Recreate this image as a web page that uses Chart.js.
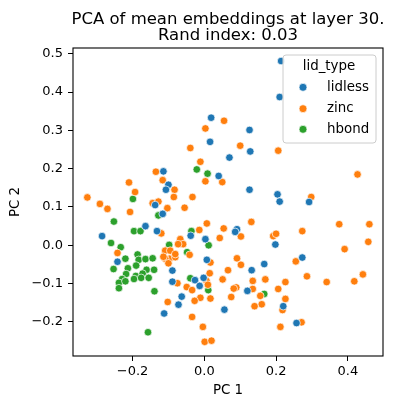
<!DOCTYPE html>
<html>
<head>
<meta charset="utf-8">
<script src="https://cdn.jsdelivr.net/npm/chart.js@4.4.0/dist/chart.umd.min.js"></script>
<style>
html,body{margin:0;padding:0;background:#fff}
</style>
</head>
<body>
<canvas id="myChart" width="396" height="409"></canvas>
<script>
// values
var lidlessX = [0.214, 0.210, 0.019, 0.126, 0.016, 0.128, 0.070, 0.040, 0.126, 0.204, 0.210, 0.292,
  -0.114, -0.100, -0.107, -0.137, -0.116, -0.164, -0.132, -0.285, -0.242, -0.038, 0.091, 0.086,
  0.003, 0.198, 0.007, 0.167, 0.132, -0.089, -0.089, -0.026, -0.002, -0.013, 0.120, -0.063,
  -0.072, -0.112, 0.056, 0.273, 0.220, 0.257];
var lidlessY = [0.481, 0.387, 0.333, 0.301, 0.270, 0.245, 0.229, 0.181, 0.145, 0.133, 0.114, 0.113,
  0.193, 0.158, 0.145, 0.105, 0.082, 0.050, 0.037, 0.024, -0.043, 0.025, 0.042, 0.035,
  0.016, 0.002, -0.038, -0.049, -0.065, -0.066, -0.095, -0.091, -0.085, -0.106, -0.119, -0.134,
  -0.155, -0.178, -0.168, -0.032, -0.159, -0.203];

var zincX = [0.055, 0.003, -0.039, 0.100, 0.206, -0.011, 0.003, 0.050, -0.033, -0.055, 0.427, 0.298,
  -0.135, -0.210, -0.116, -0.083, -0.193, -0.326, -0.085, -0.291, -0.270, -0.144, -0.128, -0.103,
  -0.207, -0.120, -0.242,
  -0.067, -0.059, -0.073, -0.109, -0.095, -0.097, -0.109, -0.081, -0.114, -0.081, -0.100,
  -0.102, -0.075,
  0.007, 0.054, 0.131, -0.014, 0.102, 0.043, 0.192, -0.041, 0.017, 0.091, 0.102, 0.066,
  0.015, 0.051, 0.006, 0.135, 0.170, -0.049, -0.034, 0.010, 0.089, 0.082, 0.135, 0.156,
  -0.011, 0.017, -0.027, 0.075, 0.160, 0.140, -0.034, -0.004, 0.001, 0.020,
  0.376, 0.460, 0.273, 0.457, 0.391, 0.255, 0.286, 0.341, 0.418, 0.442, 0.226, 0.206,
  0.226, 0.218, 0.271, 0.212, 0.200];
var zincY = [0.325, 0.305, 0.254, 0.260, 0.247, 0.218, 0.167, 0.165, 0.126, 0.098, 0.185, 0.126,
  0.192, 0.164, 0.170, 0.145, 0.139, 0.125, 0.126, 0.108, 0.095, 0.110, 0.114, 0.097,
  0.087, 0.031, -0.020,
  0.016, 0.003, 0.003, -0.014, -0.014, -0.035, -0.035, -0.031, -0.030, -0.023, -0.047,
  -0.148, -0.099,
  0.057, 0.044, 0.061, 0.040, 0.023, 0.019, 0.024, -0.025, -0.045, -0.034, -0.051, -0.065,
  -0.073, -0.089, -0.093, -0.093, -0.089, -0.109, -0.117, -0.103, -0.110, -0.113, -0.114, -0.132,
  -0.137, -0.139, -0.145, -0.135, -0.154, -0.159, -0.187, -0.213, -0.252, -0.249,
  0.055, 0.055, 0.037, 0.009, -0.010, -0.042, -0.081, -0.096, -0.094, -0.076, -0.096, -0.114,
  -0.140, -0.169, -0.201, -0.213, 0.030];

var hbondX = [-0.021, 0.009, -0.199, -0.128, -0.252, -0.196, -0.178, -0.260, -0.233, -0.098, -0.036, 0.012,
  -0.048, -0.039, 0.011, 0.167, -0.157,
  -0.186, -0.183, -0.164, -0.144, -0.220, -0.253, -0.213, -0.190, -0.161, -0.140, -0.218, -0.191,
  -0.172, -0.229, -0.196, -0.176, -0.155, -0.238, -0.220, -0.238, -0.139];
var hbondY = [0.198, 0.187, 0.121, 0.078, 0.062, 0.037, 0.037, 0.006, -0.005, 0.001, 0.037, 0.000,
  -0.018, -0.086, -0.117, -0.127, -0.227,
  -0.024, -0.038, -0.036, -0.034, -0.035, -0.062, -0.060, -0.053, -0.064, -0.064, -0.075, -0.080,
  -0.074, -0.088, -0.088, -0.085, -0.085, -0.098, -0.094, -0.112, -0.120];

var xTicks = [-0.2, 0.0, 0.2, 0.4];
var yTicks = [-0.2, -0.1, 0.0, 0.1, 0.2, 0.3, 0.4, 0.5];

var titleLines = ['PCA of mean embeddings at layer 30.', 'Rand index: 0.03'];
var legendTitle = 'lid_type';

function pts(xs, ys) {
  return xs.map((x, i) => ({x: x, y: ys[i]}));
}
function fmt(v) {
  return (v < 0 ? '\u2212' : '') + Math.abs(v).toFixed(1);
}

var FONT = 'DejaVu Sans';

var extras = {
  id: 'extras',
  afterDatasetsDraw(chart) {
    var ctx = chart.ctx, a = chart.chartArea;
    ctx.save();
    ctx.strokeStyle = '#000';
    ctx.lineWidth = 1.1;
    ctx.strokeRect(a.left, a.top, a.right - a.left, a.bottom - a.top);
    ctx.restore();
  },
  afterDraw(chart) {
    var ctx = chart.ctx, a = chart.chartArea;
    ctx.save();
    // title
    ctx.fillStyle = '#000';
    ctx.textAlign = 'center';
    ctx.textBaseline = 'alphabetic';
    ctx.font = '16.5px "' + FONT + '"';
    var cx = (a.left + a.right) / 2;
    ctx.fillText(titleLines[0], cx, 24);
    ctx.fillText(titleLines[1], cx, 39.5);

    // legend
    var w = 93, h = 88;
    var bx = a.right - 7 - w, by = a.top + 7;
    ctx.beginPath();
    ctx.roundRect(bx, by, w, h, 3);
    ctx.fillStyle = 'rgba(255,255,255,0.8)';
    ctx.fill();
    ctx.strokeStyle = '#cccccc';
    ctx.lineWidth = 1;
    ctx.stroke();
    ctx.fillStyle = '#000';
    ctx.font = '13.4px "' + FONT + '"';
    ctx.textBaseline = 'middle';
    ctx.fillText(legendTitle, bx + 46, by + 12);
    ctx.textAlign = 'left';
    var rows = [32.3, 53.7, 74.3];
    chart.data.datasets.forEach(function (ds, i) {
      ctx.beginPath();
      ctx.arc(bx + 20, by + rows[i], 4, 0, Math.PI * 2);
      ctx.fillStyle = ds.backgroundColor;
      ctx.fill();
      ctx.strokeStyle = '#fff';
      ctx.lineWidth = 0.7;
      ctx.stroke();
      ctx.fillStyle = '#000';
      ctx.fillText(ds.label, bx + 44, by + rows[i]);
    });
    ctx.restore();
  }
};

new Chart('myChart', {
  type: 'scatter',
  data: {
    datasets: [{
      label: 'lidless',
      data: pts(lidlessX, lidlessY),
      backgroundColor: '#1f77b4'
    }, {
      label: 'zinc',
      data: pts(zincX, zincY),
      backgroundColor: '#ff7f0e'
    }, {
      label: 'hbond',
      data: pts(hbondX, hbondY),
      backgroundColor: '#2ca02c'
    }]
  },
  options: {
    responsive: false,
    animation: false,
    devicePixelRatio: 1,
    layout: {padding: {top: 48, right: 13, left: 0, bottom: 0}},
    elements: {point: {radius: 3.8, borderColor: '#ffffff', borderWidth: 0.7, hoverRadius: 3.8}},
    plugins: {
      legend: {display: false},
      title: {display: false},
      tooltip: {enabled: false}
    },
    scales: {
      x: {
        type: 'linear',
        min: -0.366,
        max: 0.498,
        afterBuildTicks: function (s) { s.ticks = xTicks.map(v => ({value: v})); },
        afterFit: function (s) { s.height = 53; },
        border: {display: false},
        grid: {display: true, drawOnChartArea: false, drawTicks: true, tickLength: 5, tickColor: '#000', tickWidth: 1},
        ticks: {color: '#000', padding: 3, maxRotation: 0, font: {family: FONT, size: 13}, callback: fmt},
        title: {display: true, text: 'PC 1', color: '#000', font: {family: FONT, size: 13.4}, padding: {top: 0, bottom: 10}}
      },
      y: {
        type: 'linear',
        min: -0.289,
        max: 0.515,
        afterBuildTicks: function (s) { s.ticks = yTicks.map(v => ({value: v})); },
        afterFit: function (s) { s.width = 73; },
        border: {display: false},
        grid: {display: true, drawOnChartArea: false, drawTicks: true, tickLength: 5, tickColor: '#000', tickWidth: 1},
        ticks: {color: '#000', padding: 5, font: {family: FONT, size: 13}, callback: fmt},
        title: {display: true, text: 'PC 2', color: '#000', font: {family: FONT, size: 13.4}, padding: {top: 7, bottom: 0}}
      }
    }
  },
  plugins: [extras]
});
</script>
</body>
</html>
